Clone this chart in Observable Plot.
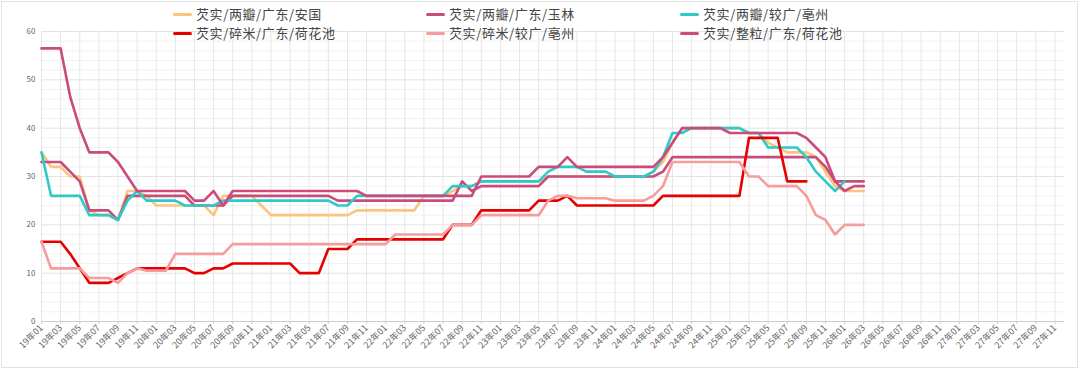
<!DOCTYPE html>
<html><head><meta charset="utf-8">
<script src="https://cdn.jsdelivr.net/npm/d3@7"></script>
<script src="https://cdn.jsdelivr.net/npm/@observablehq/plot@0.6"></script>
<style>
body{margin:0;background:#fff;font-family:"Noto Sans CJK SC","Noto Sans",sans-serif;}
#wrap{position:relative;width:1080px;height:374px;overflow:hidden;background:#fff;}
#chart{position:absolute;left:0;top:0;}
#frame{position:absolute;left:1px;top:1px;width:1075px;height:365px;border:1px solid #e3e3e3;pointer-events:none;}
#legend{position:absolute;left:0;top:0;width:1080px;height:44px;}
.item{position:absolute;display:flex;align-items:center;font-size:13px;letter-spacing:0.6px;line-height:16px;height:16px;color:#444;white-space:nowrap;}
.sw{width:19px;height:3px;border-radius:1.5px;margin-right:4px;}
</style></head><body>
<div id="wrap"><div id="chart"></div><div id="legend"></div><div id="frame"></div></div>
<script>
// Month categories 19年01 … 27年12
const years = ["19","20","21","22","23","24","25","26","27"];
const monthNums = ["01","02","03","04","05","06","07","08","09","10","11","12"];
const months = years.flatMap(y => monthNums.map(m => y + "年" + m));
const yTicks = [0, 10, 20, 30, 40, 50, 60];

const names = ["芡实/两瓣/广东/安国", "芡实/两瓣/广东/玉林", "芡实/两瓣/较广/亳州",
               "芡实/碎米/广东/荷花池", "芡实/碎米/较广/亳州", "芡实/整粒/广东/荷花池"];
const colors = ["#fcc57c", "#c94d7c", "#2ccbca", "#e60000", "#f79c9c", "#cb4b7c"];

const anguo = [
 35,32,32,30,30,23,22,22,21,27,27,26,
 24,24,24,24,24,24,22,26,26,26,26,24,
 22,22,22,22,22,22,22,22,22,23,23,23,
 23,23,23,23,26,26,26,27,28,28,29,29,
 29,29,29,29,29,30,30,30,30,30,30,30,
 30,30,30,30,31,33,37,40,40,40,40,40,
 40,40,39,39,37,36,35,35,35,34,31,28,
 27,27,27];
const yulin = [
 33,33,33,31,29,23,23,23,21,26,26,26,
 26,26,26,26,24,24,24,24,26,26,26,26,
 26,26,26,26,26,26,26,25,25,25,25,25,
 25,25,25,25,25,25,25,25,29,27,28,28,
 28,28,28,28,28,30,30,30,30,30,30,30,
 30,30,30,30,30,31,34,34,34,34,34,34,
 34,34,34,34,34,34,34,34,34,34,32,29,
 29,29,29];
const bozhou = [
 35,26,26,26,26,22,22,22,21,25,27,25,
 25,25,25,24,24,24,24,25,25,25,25,25,
 25,25,25,25,25,25,25,24,24,26,26,26,
 26,26,26,26,26,26,26,28,28,28,29,29,
 29,29,29,29,29,31,32,32,32,31,31,31,
 30,30,30,30,31,34,39,39,40,40,40,40,
 40,40,39,39,36,36,36,36,34,31,29,27,
 29];
const suimiHehuachi = [
 16.5,16.5,16.5,14,11,8,8,8,9,10,11,11,
 11,11,11,11,10,10,11,11,12,12,12,12,
 12,12,12,10,10,10,15,15,15,17,17,17,
 17,17,17,17,17,17,17,20,20,20,23,23,
 23,23,23,23,25,25,25,26,24,24,24,24,
 24,24,24,24,24,26,26,26,26,26,26,26,
 26,26,38,38,38,38,29,29,29];
const suimiBozhou = [
 16.5,11,11,11,11,9,9,9,8,10,11,10.5,
 10.5,10.5,14,14,14,14,14,14,16,16,16,16,
 16,16,16,16,16,16,16,16,16,16,16,16,
 16,18,18,18,18,18,18,20,20,20,22,22,
 22,22,22,22,22,25,26,26,25.5,25.5,25.5,25.5,
 25,25,25,25,26,28,33,33,33,33,33,33,
 33,33,30,30,28,28,28,28,26,22,21,18,
 20,20,20];
const zhengli = [
 56.5,56.5,56.5,46.5,40,35,35,35,33,30,27,27,
 27,27,27,27,25,25,27,24,27,27,27,27,
 27,27,27,27,27,27,27,27,27,27,26,26,
 26,26,26,26,26,26,26,26,26,26,30,30,
 30,30,30,30,32,32,32,34,32,32,32,32,
 32,32,32,32,32,34,37,40,40,40,40,40,
 39,39,39,39,39,39,39,39,38,36,34,29,
 27,28,28];

const seriesValues = [anguo, yulin, bozhou, suimiHehuachi, suimiBozhou, zhengli];
const series = names.map((n, k) => ({name: n, color: colors[k],
  rows: seriesValues[k].map((v, i) => ({month: months[i], value: v, name: n}))}));

const labelTicks = months.filter((d, i) => i % 2 === 0);
const minorY = d3.range(0, 61, 2).filter(v => v % 10 !== 0);

const chart = Plot.plot({
  width: 1080, height: 374,
  marginLeft: 41, marginRight: 16, marginTop: 31, marginBottom: 53,
  style: {fontFamily: "'Noto Sans CJK SC','Noto Sans',sans-serif", background: "transparent"},
  x: {type: "point", domain: months, padding: 0},
  y: {domain: [0, 60]},
  color: {domain: names, range: colors},
  marks: [
    Plot.gridY(minorY, {stroke: "#f1f1f1", strokeOpacity: 1}),
    Plot.gridY(yTicks, {stroke: "#e3e3e3", strokeOpacity: 1}),
    Plot.gridX(labelTicks, {stroke: "#e6e6e6", strokeOpacity: 1}),
    Plot.axisY({ticks: yTicks, tickSize: 0, tickPadding: 6, fontSize: 8, fill: "#666", label: null}),
    Plot.axisX({ticks: labelTicks, tickRotate: -45, tickSize: 3, tickPadding: 2, fontSize: 9, fill: "#666", stroke: "#ccc", label: null}),
    Plot.ruleY([0], {stroke: "#cccccc"}),
    ...series.map(s => Plot.line(s.rows, {x: "month", y: "value", stroke: s.color, strokeWidth: 2.6, strokeLinejoin: "round", strokeLinecap: "round"}))
  ]
});
document.getElementById("chart").appendChild(chart);

// Legend
const legendPos = [[173, 6], [426, 6], [680, 6], [173, 25], [426, 25], [680, 25]];
const legendOrder = [0, 1, 2, 3, 4, 5];
const lg = document.getElementById("legend");
legendOrder.forEach((k, j) => {
  const it = document.createElement("div");
  it.className = "item";
  it.style.left = legendPos[j][0] + "px";
  it.style.top = legendPos[j][1] + "px";
  const sw = document.createElement("span");
  sw.className = "sw"; sw.style.background = colors[k];
  const tx = document.createElement("span");
  tx.textContent = names[k];
  it.appendChild(sw); it.appendChild(tx);
  lg.appendChild(it);
});
</script></body></html>
